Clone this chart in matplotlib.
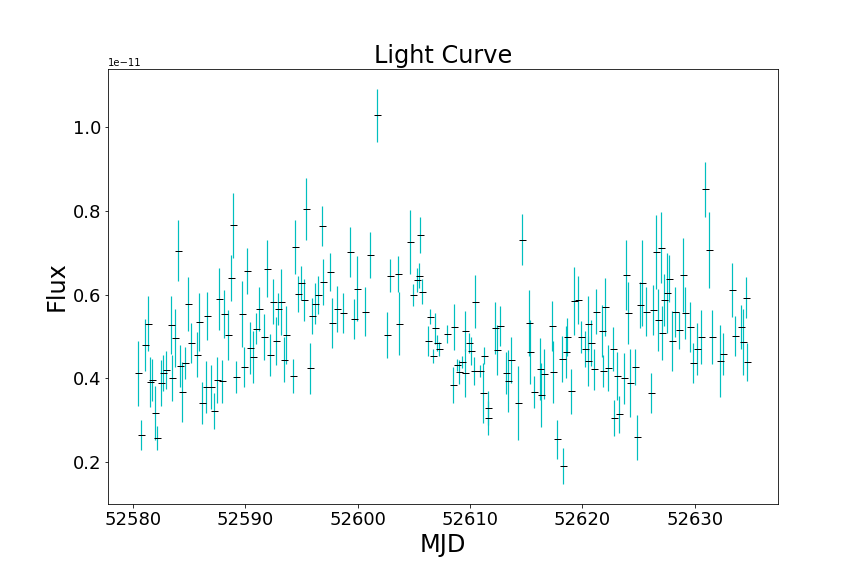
import numpy as np
import matplotlib
matplotlib.use('Agg')
import matplotlib.pyplot as plt

# observation times (MJD)
mjd = [52580.49, 52580.76, 52581.03, 52581.38, 52581.56, 52581.73, 52582.00, 52582.18,
       52582.54, 52582.71, 52582.98, 52583.43, 52583.51, 52583.78, 52584.04, 52584.23,
       52584.40, 52584.67, 52584.93, 52585.20, 52585.74, 52585.92, 52586.18, 52586.54,
       52586.63, 52586.98, 52587.25, 52587.52, 52587.70, 52587.96, 52588.14, 52588.44,
       52588.76, 52588.94, 52589.21, 52589.74, 52589.92, 52590.18, 52590.46, 52590.72,
       52590.99, 52591.26, 52591.70, 52591.96, 52592.23, 52592.50, 52592.77, 52592.95,
       52593.21, 52593.48, 52593.66, 52594.28, 52594.46, 52594.73, 52594.99, 52595.26,
       52595.43, 52595.79, 52595.97, 52596.24, 52596.51, 52596.80, 52596.95, 52597.57,
       52597.75, 52598.19, 52598.73, 52599.35, 52599.71, 52599.97, 52600.69, 52601.13,
       52601.75, 52602.64, 52602.91, 52603.62, 52603.71, 52604.69, 52604.96, 52605.31,
       52605.49, 52605.58, 52605.75, 52606.29, 52606.47, 52606.74, 52606.91, 52607.09,
       52607.27, 52607.98, 52608.52, 52608.60, 52608.87, 52609.05, 52609.31, 52609.55,
       52609.60, 52609.94, 52610.11, 52610.38, 52610.47, 52610.92, 52611.19, 52611.27,
       52611.58, 52611.63, 52612.25, 52612.43, 52612.69, 52613.23, 52613.41, 52613.67,
       52614.30, 52614.66, 52615.28, 52615.34, 52615.72, 52616.25, 52616.34, 52616.61,
       52617.33, 52617.37, 52617.77, 52618.22, 52618.30, 52618.56, 52618.66, 52619.01,
       52619.28, 52619.64, 52619.90, 52620.26, 52620.48, 52620.53, 52620.79, 52621.06,
       52621.23, 52621.77, 52621.80, 52622.03, 52622.31, 52622.75, 52622.78, 52623.11,
       52623.28, 52623.73, 52623.90, 52624.08, 52624.26, 52624.70, 52624.89, 52625.15,
       52625.33, 52625.68, 52626.12, 52626.31, 52626.57, 52626.75, 52627.01, 52627.11,
       52627.29, 52627.56, 52627.73, 52628.00, 52628.26, 52628.62, 52628.98, 52629.15,
       52629.60, 52629.87, 52630.22, 52630.57, 52630.93, 52631.29, 52631.56, 52632.26,
       52632.54, 52633.34, 52633.60, 52634.14, 52634.31, 52634.59, 52634.67]

# flux in units of 1e-11
flux = [0.412, 0.264, 0.480, 0.530, 0.391, 0.396, 0.317, 0.257, 0.389, 0.412, 0.420, 0.527,
        0.400, 0.496, 0.705, 0.430, 0.367, 0.436, 0.578, 0.484, 0.456, 0.535, 0.341, 0.379,
        0.549, 0.379, 0.321, 0.396, 0.590, 0.393, 0.554, 0.503, 0.640, 0.765, 0.403, 0.554,
        0.427, 0.657, 0.472, 0.451, 0.518, 0.566, 0.499, 0.662, 0.456, 0.583, 0.489, 0.566,
        0.583, 0.444, 0.503, 0.405, 0.714, 0.602, 0.628, 0.587, 0.805, 0.424, 0.549, 0.578,
        0.599, 0.763, 0.630, 0.654, 0.532, 0.566, 0.556, 0.702, 0.542, 0.614, 0.559, 0.695,
        1.028, 0.503, 0.645, 0.650, 0.530, 0.726, 0.599, 0.635, 0.645, 0.743, 0.607, 0.489,
        0.547, 0.453, 0.520, 0.484, 0.470, 0.506, 0.384, 0.523, 0.432, 0.415, 0.439, 0.513,
        0.412, 0.484, 0.465, 0.417, 0.583, 0.417, 0.365, 0.454, 0.329, 0.305, 0.520, 0.468,
        0.525, 0.412, 0.393, 0.444, 0.341, 0.731, 0.532, 0.463, 0.367, 0.422, 0.360, 0.410,
        0.525, 0.415, 0.254, 0.446, 0.190, 0.463, 0.499, 0.369, 0.585, 0.587, 0.499, 0.470,
        0.530, 0.441, 0.484, 0.422, 0.559, 0.513, 0.417, 0.571, 0.424, 0.470, 0.305, 0.405,
        0.314, 0.400, 0.647, 0.556, 0.389, 0.427, 0.259, 0.575, 0.628, 0.559, 0.365, 0.563,
        0.702, 0.539, 0.712, 0.508, 0.587, 0.604, 0.638, 0.489, 0.559, 0.515, 0.647, 0.556,
        0.523, 0.436, 0.470, 0.499, 0.851, 0.707, 0.499, 0.441, 0.458, 0.611, 0.501, 0.523,
        0.487, 0.592, 0.439]

flux_err = [0.078, 0.036, 0.062, 0.066, 0.060, 0.051, 0.064, 0.029, 0.055, 0.043, 0.046, 0.069,
            0.055, 0.069, 0.072, 0.050, 0.071, 0.038, 0.065, 0.048, 0.054, 0.069, 0.050, 0.062,
            0.057, 0.053, 0.043, 0.055, 0.074, 0.051, 0.057, 0.060, 0.055, 0.077, 0.038, 0.079,
            0.047, 0.055, 0.062, 0.062, 0.037, 0.053, 0.055, 0.067, 0.050, 0.054, 0.057, 0.038,
            0.079, 0.054, 0.069, 0.041, 0.065, 0.043, 0.041, 0.050, 0.074, 0.061, 0.043, 0.049,
            0.046, 0.048, 0.055, 0.046, 0.060, 0.055, 0.048, 0.059, 0.048, 0.078, 0.059, 0.055,
            0.063, 0.055, 0.040, 0.043, 0.075, 0.076, 0.026, 0.029, 0.030, 0.043, 0.029, 0.035,
            0.018, 0.016, 0.037, 0.019, 0.017, 0.022, 0.043, 0.055, 0.014, 0.029, 0.014, 0.048,
            0.057, 0.024, 0.034, 0.034, 0.063, 0.014, 0.072, 0.021, 0.041, 0.041, 0.062, 0.060,
            0.048, 0.050, 0.074, 0.055, 0.089, 0.061, 0.079, 0.077, 0.038, 0.074, 0.076, 0.060,
            0.060, 0.074, 0.046, 0.055, 0.043, 0.062, 0.046, 0.054, 0.081, 0.057, 0.038, 0.042,
            0.066, 0.059, 0.055, 0.049, 0.054, 0.062, 0.038, 0.069, 0.055, 0.053, 0.043, 0.057,
            0.044, 0.061, 0.084, 0.074, 0.081, 0.042, 0.053, 0.055, 0.103, 0.059, 0.048, 0.060,
            0.089, 0.074, 0.084, 0.065, 0.061, 0.096, 0.057, 0.071, 0.060, 0.044, 0.089, 0.062,
            0.060, 0.048, 0.062, 0.065, 0.065, 0.091, 0.065, 0.086, 0.050, 0.065, 0.047, 0.053,
            0.079, 0.049, 0.045]

scale = 1e-11

fig = plt.figure(figsize=(12, 8), dpi=72)
plt.subplots_adjust(left=0.125, right=0.9, top=0.88, bottom=0.125)
plt.errorbar(mjd, np.array(flux) * scale, yerr=np.array(flux_err) * scale,
             fmt='k_', ecolor='c', elinewidth=1.2, ms=7)
plt.title('Light Curve', fontsize=24)
plt.xlabel('MJD', fontsize=24)
plt.ylabel('Flux', fontsize=24)
plt.xticks(fontsize=18)
plt.yticks(fontsize=18)
plt.savefig('out.png')
